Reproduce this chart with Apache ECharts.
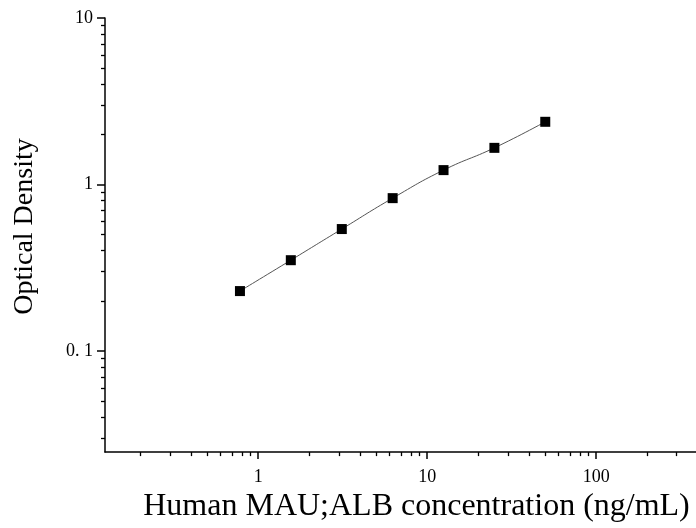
<!DOCTYPE html>
<html>
<head>
<meta charset="utf-8">
<script src="https://cdn.jsdelivr.net/npm/echarts@6/dist/echarts.min.js"></script>
<style>
html,body{margin:0;padding:0;background:#fff;}
#chart{width:696px;height:528px;}
</style>
</head>
<body>
<div id="chart"></div>
<script>
// Data
const concentration = [0.78, 1.56, 3.125, 6.25, 12.5, 25, 50];
const opticalDensity = [0.229, 0.351, 0.540, 0.828, 1.22, 1.66, 2.38];

// Tick values and labels
const xMajorTicks = [1, 10, 100];
const xMajorLabels = ['1', '10', '100'];
const xMinorTicks = [0.2, 0.3, 0.4, 0.5, 0.6, 0.7, 0.8, 0.9,
  2, 3, 4, 5, 6, 7, 8, 9, 20, 30, 40, 50, 60, 70, 80, 90, 200, 300];
const yMajorTicks = [0.1, 1, 10];
const yMajorLabels = ['0. 1', '1', '10'];
const yMinorTicks = [0.03, 0.04, 0.05, 0.06, 0.07, 0.08, 0.09,
  0.2, 0.3, 0.4, 0.5, 0.6, 0.7, 0.8, 0.9, 2, 3, 4, 5, 6, 7, 8, 9];

const xRange = [0.124, 390];
const yRange = [0.0247, 10];

const FONT = 'Liberation Serif';
const labelFor = (ticks, labels) => v => {
  let best = 0;
  for (let i = 0; i < ticks.length; i++) {
    if (Math.abs(Math.log10(ticks[i]) - Math.log10(v)) < Math.abs(Math.log10(ticks[best]) - Math.log10(v))) best = i;
  }
  return labels[best];
};

const chart = echarts.init(document.getElementById('chart'), null, {renderer: 'canvas'});

const baseAxis = (range) => ({
  type: 'log',
  logBase: 10,
  min: range[0],
  max: range[1],
  splitLine: {show: false},
  minorTick: {show: false},
  minorSplitLine: {show: false}
});

chart.setOption({
  backgroundColor: '#ffffff',
  animation: false,
  grid: {left: 105, right: 0, top: 18, bottom: 75, containLabel: false},
  xAxis: [
    Object.assign(baseAxis(xRange), {
      position: 'bottom',
      name: 'Human MAU;ALB concentration (ng/mL)',
      nameLocation: 'middle',
      nameGap: 37,
      nameTextStyle: {fontFamily: FONT, fontSize: 32, color: '#000', padding: [0, 0, 0, 32]},
      axisLine: {show: true, onZero: false, lineStyle: {color: '#000', width: 1.5}},
      axisTick: {show: true, inside: false, length: 7, customValues: xMajorTicks,
        lineStyle: {color: '#000', width: 1.5}},
      axisLabel: {show: true, margin: 16, customValues: xMajorTicks,
        formatter: labelFor(xMajorTicks, xMajorLabels),
        fontFamily: FONT, fontSize: 18, color: '#000'}
    }),
    Object.assign(baseAxis(xRange), {
      position: 'bottom',
      axisLine: {show: false, onZero: false},
      axisTick: {show: true, inside: false, length: 4, customValues: xMinorTicks,
        lineStyle: {color: '#000', width: 1.3}},
      axisLabel: {show: false}
    })
  ],
  yAxis: [
    Object.assign(baseAxis(yRange), {
      position: 'left',
      name: 'Optical Density',
      nameLocation: 'middle',
      nameGap: 66,
      nameTextStyle: {fontFamily: FONT, fontSize: 28, color: '#000', padding: [0, 0, 0, 17]},
      axisLine: {show: true, onZero: false, lineStyle: {color: '#000', width: 1.5}},
      axisTick: {show: true, inside: false, length: 8, customValues: yMajorTicks,
        lineStyle: {color: '#000', width: 1.5}},
      axisLabel: {show: true, margin: 12, customValues: yMajorTicks,
        formatter: labelFor(yMajorTicks, yMajorLabels),
        fontFamily: FONT, fontSize: 18, color: '#000'}
    }),
    Object.assign(baseAxis(yRange), {
      position: 'left',
      axisLine: {show: false, onZero: false},
      axisTick: {show: true, inside: false, length: 4, customValues: yMinorTicks,
        lineStyle: {color: '#000', width: 1.3}},
      axisLabel: {show: false}
    })
  ],
  series: [{
    type: 'line',
    xAxisIndex: 0,
    yAxisIndex: 0,
    data: concentration.map((c, i) => [c, opticalDensity[i]]),
    smooth: 0.5,
    symbol: 'rect',
    symbolSize: 10,
    showAllSymbol: true,
    lineStyle: {color: '#555', width: 1},
    itemStyle: {color: '#000'},
    z: 3
  }]
});
</script>
</body>
</html>
